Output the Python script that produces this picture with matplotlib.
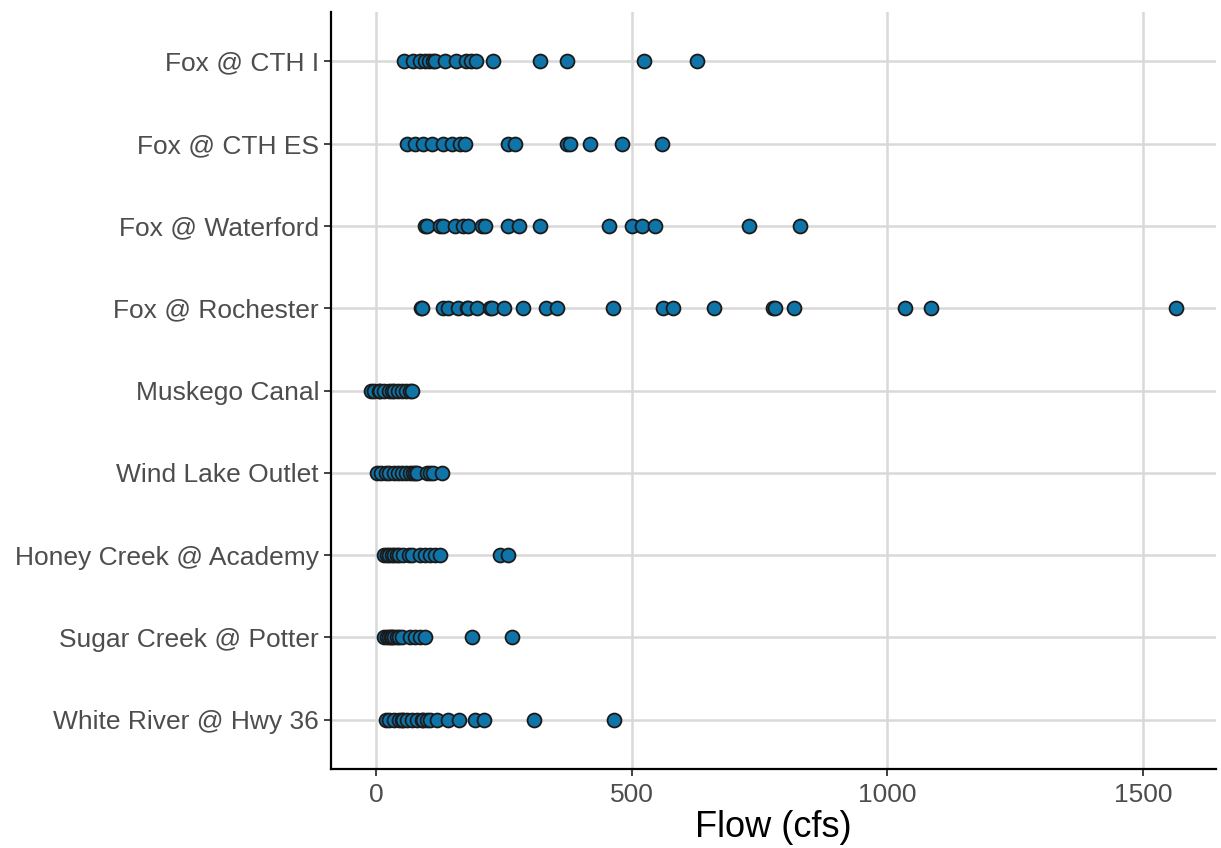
import matplotlib.pyplot as plt
import numpy as np

plt.rcParams['font.family'] = ['Liberation Sans', 'DejaVu Sans']

# sites, bottom to top
sites = ['White River @ Hwy 36', 'Sugar Creek @ Potter', 'Honey Creek @ Academy',
         'Wind Lake Outlet', 'Muskego Canal', 'Fox @ Rochester', 'Fox @ Waterford',
         'Fox @ CTH ES', 'Fox @ CTH I']

white_river = [18, 25, 34, 45, 50, 53, 60, 70, 80, 89, 92, 100, 105, 119, 141, 161, 193, 210, 309, 465]
sugar_creek = [14, 20, 24, 28, 31, 35, 40, 45, 50, 66, 76, 86, 96, 187, 265]
honey_creek = [14, 20, 24, 30, 34, 40, 44, 53, 63, 70, 86, 96, 105, 115, 125, 242, 258]
wind_lake = [1, 10, 18, 25, 34, 42, 50, 58, 66, 72, 76, 80, 100, 105, 110, 128]
muskego = [-10, -5, 5, 8, 15, 24, 30, 34, 42, 50, 58, 65, 70]
rochester = [87, 89, 130, 141, 159, 177, 180, 197, 223, 226, 250, 286, 331, 353, 462,
             560, 581, 661, 776, 779, 818, 1035, 1085, 1564]
waterford = [96, 100, 124, 131, 154, 169, 180, 206, 213, 258, 280, 320, 455, 501, 519, 545, 730, 828]
cth_es = [60, 75, 92, 109, 130, 148, 164, 174, 257, 271, 372, 378, 418, 480, 559]
cth_i = [55, 72, 85, 95, 103, 110, 115, 135, 156, 176, 186, 195, 229, 321, 373, 524, 627]

flows = [white_river, sugar_creek, honey_creek, wind_lake, muskego,
         rochester, waterford, cth_es, cth_i]

fig = plt.figure(figsize=(12.21, 8.48), dpi=100)
ax = fig.add_axes([0.271, 0.093, 0.725, 0.893])

for i, vals in enumerate(flows):
    ax.scatter(vals, np.full(len(vals), i), s=100, facecolor='#0f74a8',
               edgecolor='#1a1a1a', linewidth=1.3, zorder=3)

ax.set_yticks(range(len(sites)))
ax.set_yticklabels(sites)
ax.set_xticks([0, 500, 1000, 1500])
ax.set_xlim(-89, 1643)
ax.set_ylim(-0.6, len(sites) - 0.4)

ax.grid(True, color='#d9d9d9', linewidth=1.8, zorder=0)
ax.set_axisbelow(True)
for side in ['top', 'right']:
    ax.spines[side].set_visible(False)
for side in ['left', 'bottom']:
    ax.spines[side].set_linewidth(1.6)
ax.tick_params(axis='both', labelsize=19, labelcolor='#4d4d4d', color='#333333',
               length=5, width=1.3)
ax.tick_params(axis='x', pad=5)
ax.set_xlabel('Flow (cfs)', fontsize=26, color='black', labelpad=2)

fig.savefig('out.png', dpi=100)
